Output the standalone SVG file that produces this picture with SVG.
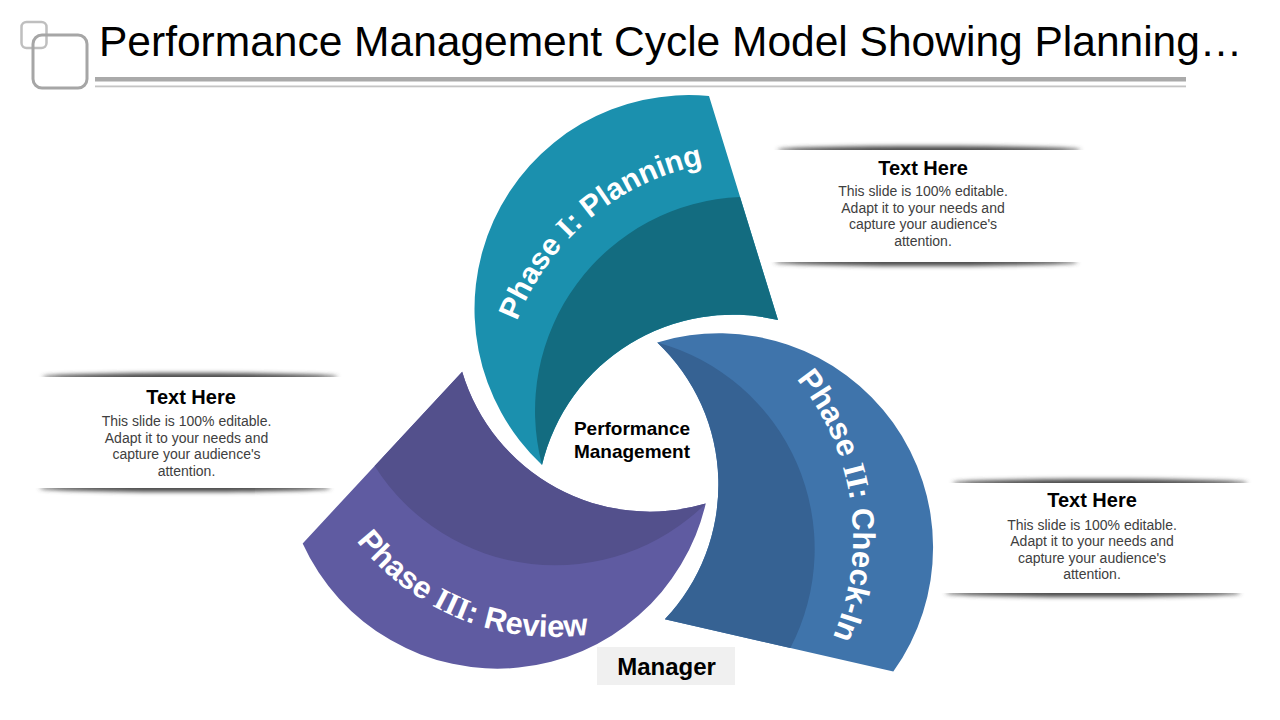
<svg xmlns="http://www.w3.org/2000/svg" xmlns:xlink="http://www.w3.org/1999/xlink" width="1280" height="720" viewBox="0 0 1280 720">
<style>
.f{font-family:"Liberation Sans",Arial,sans-serif}
.b{font-weight:bold}
.hd{font-family:"Liberation Sans",Arial,sans-serif;font-weight:bold;font-size:20px;fill:#000;text-anchor:middle}
.bd{font-family:"Liberation Sans",Arial,sans-serif;font-size:14px;fill:#404040;text-anchor:middle}
.sh{fill:#4a4a4a;filter:url(#blur)}
.ph{font-family:"Liberation Sans",Arial,sans-serif;font-weight:bold;fill:#fff}
.rn{font-family:"Liberation Serif","Times New Roman",serif;font-weight:bold}
.t1{fill:#1B90AE}.t2{fill:#136C80}
.c1{fill:#3F74AB}.c2{fill:#366293}
.r1{fill:#5F5BA1}.r2{fill:#53508C}
</style>
<defs>
<filter id="blur" x="-20%" y="-300%" width="140%" height="700%"><feGaussianBlur stdDeviation="2.2"/></filter>
<path id="blade" d="M 709 96 A 214 214 0 0 0 542 465 A 196 196 0 0 1 778 320 Z"/>
<path id="bladeDark" d="M 740 197 A 214 214 0 0 0 542 465 A 196 196 0 0 1 778 320 Z"/>
<path id="tp1" d="M 503.8 455.8 A 252 252 0 0 1 838.2 175.2" fill="none"/>
<path id="tp2" d="M 695.4 304.3 A 252 252 0 0 1 756.1 736.6" fill="none"/>
<path id="tp3" d="M 305.9 421.8 A 250 250 0 0 0 707.4 584" fill="none"/>
</defs>
<rect width="1280" height="720" fill="#fff"/>

<g id="title">
<rect x="21.5" y="22" width="25" height="26" rx="5" fill="none" stroke="#BFBFBF" stroke-width="2.5"/>
<rect x="33" y="35" width="54" height="53" rx="9" fill="none" stroke="#A6A6A6" stroke-width="3"/>
<text x="99" y="56" class="f" font-size="42.5" fill="#000">Performance Management Cycle Model Showing Planning…</text>
<rect x="95" y="77" width="1091" height="4.5" fill="#AAAAAA"/>
<rect x="95" y="85.5" width="1091" height="1.8" fill="#C4C4C4"/>
</g>

<g id="box-top">
<ellipse cx="929" cy="150" rx="152" ry="4" class="sh"/>
<ellipse cx="926" cy="262" rx="152" ry="4" class="sh"/>
<rect x="765" y="150" width="330" height="112" fill="#fff"/>
<text x="923" y="175" class="hd">Text Here</text>
<text class="bd"><tspan x="923" y="196">This slide is 100% editable.</tspan><tspan x="923" y="212.7">Adapt it to your needs and</tspan><tspan x="923" y="229.3">capture your audience's</tspan><tspan x="923" y="246">attention.</tspan></text>
</g>

<g id="box-left">
<ellipse cx="190" cy="377" rx="148" ry="4" class="sh"/>
<ellipse cx="185" cy="488" rx="146" ry="4" class="sh"/>
<rect x="25" y="377" width="330" height="111" fill="#fff"/>
<text x="191" y="404" class="hd">Text Here</text>
<text class="bd"><tspan x="186.5" y="426">This slide is 100% editable.</tspan><tspan x="186.5" y="442.7">Adapt it to your needs and</tspan><tspan x="186.5" y="459.3">capture your audience's</tspan><tspan x="186.5" y="476">attention.</tspan></text>
</g>

<g id="box-right">
<ellipse cx="1100" cy="483" rx="148" ry="4" class="sh"/>
<ellipse cx="1093" cy="593" rx="148" ry="4" class="sh"/>
<rect x="935" y="483" width="330" height="110" fill="#fff"/>
<text x="1092" y="507" class="hd">Text Here</text>
<text class="bd"><tspan x="1092" y="529.5">This slide is 100% editable.</tspan><tspan x="1092" y="546">Adapt it to your needs and</tspan><tspan x="1092" y="562.5">capture your audience's</tspan><tspan x="1092" y="579">attention.</tspan></text>
</g>

<g id="blade-planning">
<use xlink:href="#blade" href="#blade" class="t1"/>
<use xlink:href="#bladeDark" href="#bladeDark" class="t2"/>
<text class="ph" font-size="30"><textPath xlink:href="#tp1" href="#tp1" startOffset="50%" text-anchor="middle">Phase <tspan class="rn">I</tspan>: Planning</textPath></text>
</g>

<g id="blade-checkin">
<g transform="rotate(120 635 437)">
<use xlink:href="#blade" href="#blade" class="c1"/>
<use xlink:href="#bladeDark" href="#bladeDark" class="c2"/>
</g>
<text class="ph" font-size="31"><textPath xlink:href="#tp2" href="#tp2" startOffset="50%" text-anchor="middle">Phase <tspan class="rn">II</tspan>: Check-In</textPath></text>
</g>

<g id="blade-review">
<g transform="rotate(240 635 437)">
<use xlink:href="#blade" href="#blade" class="r1"/>
<use xlink:href="#bladeDark" href="#bladeDark" class="r2"/>
</g>
<text class="ph" font-size="31"><textPath xlink:href="#tp3" href="#tp3" startOffset="50%" text-anchor="middle">Phase <tspan class="rn">III</tspan>: Review</textPath></text>
</g>

<g id="center-label">
<text class="f b" font-size="19" text-anchor="middle" fill="#000"><tspan x="632" y="435">Performance</tspan><tspan x="632" y="458">Management</tspan></text>
</g>

<g id="manager">
<rect x="597" y="647" width="138" height="38" fill="#F0F0F0"/>
<text x="666.5" y="675" class="f b" font-size="24" text-anchor="middle" fill="#000">Manager</text>
</g>

<g id="connectors"/>
</svg>
